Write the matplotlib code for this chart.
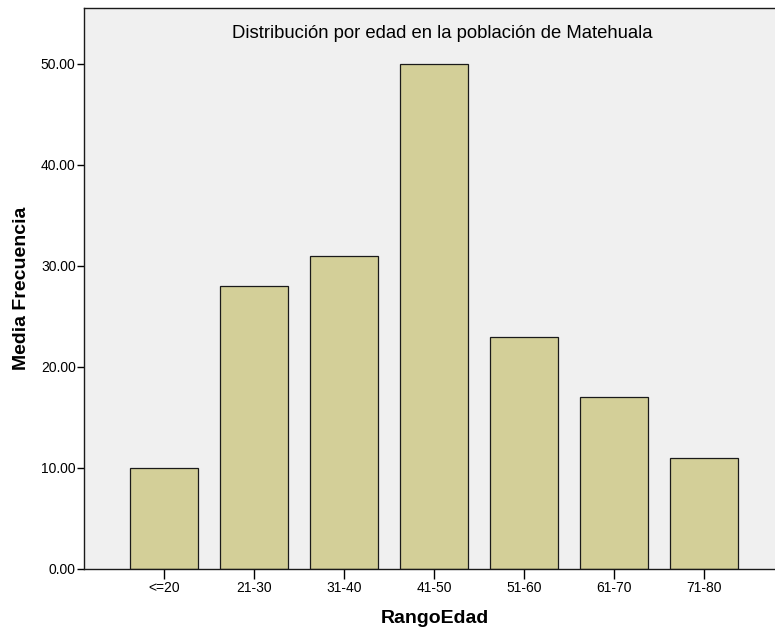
import matplotlib
matplotlib.use("Agg")
import matplotlib.pyplot as plt
from matplotlib.ticker import FormatStrFormatter

plt.rcParams['font.family'] = ['Liberation Sans', 'DejaVu Sans']

rangos = ['<=20', '21-30', '31-40', '41-50', '51-60', '61-70', '71-80']
frecuencia = [10, 28, 31, 50, 23, 17, 11]
yticks = [0, 10, 20, 30, 40, 50]

fig = plt.figure(figsize=(7.75, 6.27), dpi=100)
ax = fig.add_axes([84/775, 58/627, 1 - 84/775, (569-8)/627])
ax.set_facecolor('#f0f0f0')

x = list(range(len(rangos)))
ax.bar(x, frecuencia, width=0.755, color='#d3cf98', edgecolor='#1a1a1a', linewidth=0.9)

ax.set_xlim(-0.889, 6.79)
ax.set_ylim(0, 55.5)
ax.set_xticks(x)
ax.set_xticklabels(rangos, fontsize=10)
ax.set_yticks(yticks)
ax.yaxis.set_major_formatter(FormatStrFormatter('%.2f'))
ax.tick_params(axis='y', labelsize=10, length=5, width=1, direction='out', pad=1)
ax.tick_params(axis='x', length=7, width=1, direction='out', pad=1.5)

ax.spines['right'].set_visible(False)
for s in ['left', 'top', 'bottom']:
    ax.spines[s].set_linewidth(1.0)
    ax.spines[s].set_color('#1a1a1a')

ax.text(0.519, 0.946, 'Distribución por edad en la población de Matehuala',
        transform=ax.transAxes, ha='center', va='baseline', fontsize=13.3)

ax.set_ylabel('Media Frecuencia', fontsize=14, fontweight='bold')
ax.yaxis.label.set_va('baseline')
ax.yaxis.set_label_coords(-0.0839, 0.5)
ax.set_xlabel('RangoEdad', fontsize=14, fontweight='bold')
ax.xaxis.label.set_va('baseline')
ax.xaxis.set_label_coords(0.508, -0.0963)

fig.savefig('out.png', dpi=100)
